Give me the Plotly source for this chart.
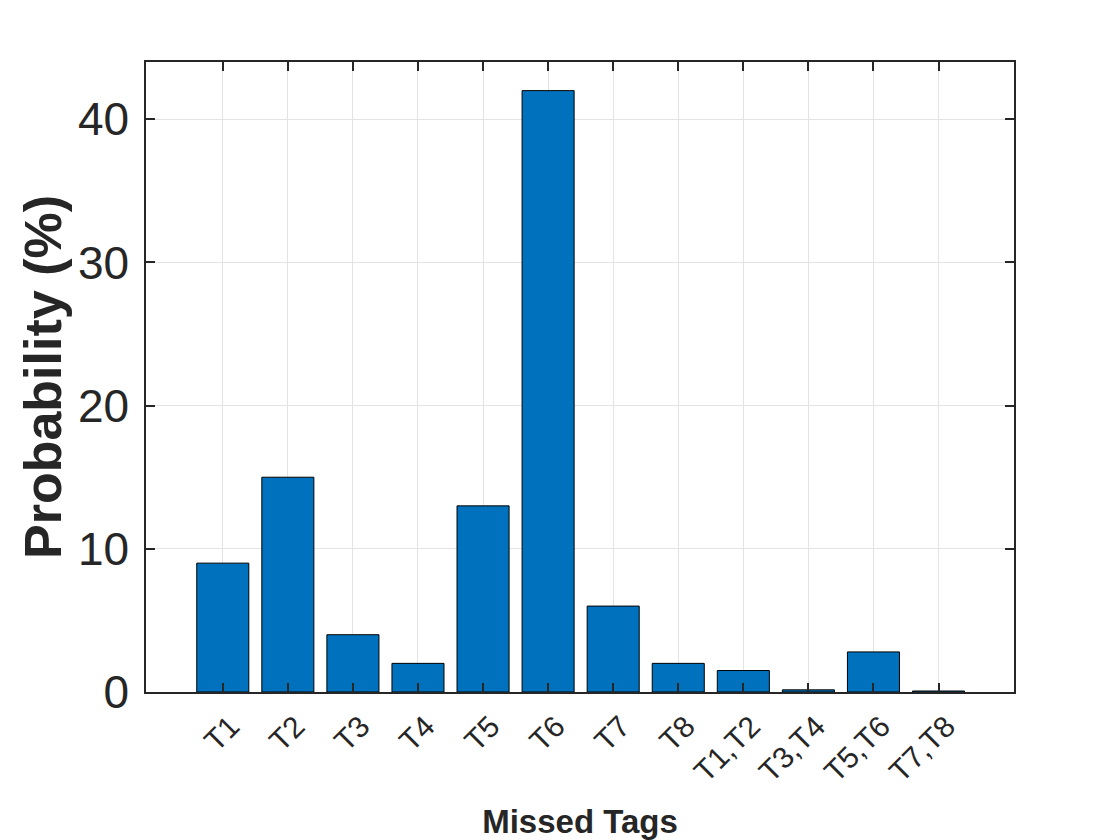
import plotly.graph_objects as go

categories = ["T1", "T2", "T3", "T4", "T5", "T6", "T7", "T8", "T1,T2", "T3,T4", "T5,T6", "T7,T8"]
probability = [9, 15, 4, 2, 13, 42, 6, 2, 1.5, 0.15, 2.8, 0.07]
y_ticks = [0, 10, 20, 30, 40]

txt = "#262626"
grid = "#E3E3E3"

fig = go.Figure(
    go.Bar(
        x=categories,
        y=probability,
        width=0.8,
        marker=dict(color="#0072BD", line=dict(color="#000000", width=1)),
    )
)

fig.update_layout(
    width=1104,
    height=832,
    margin=dict(l=138, r=98, t=54, b=148, autoexpand=False),
    paper_bgcolor="white",
    plot_bgcolor="white",
    font=dict(family="Liberation Sans, Arial, sans-serif", color=txt),
    showlegend=False,
    bargap=0.2,
)

fig.update_xaxes(
    type="category",
    range=[-1.18, 12.16],
    tickangle=-45,
    tickfont=dict(size=30, color=txt),
    ticks="inside",
    ticklen=9,
    tickwidth=1.5,
    tickcolor=txt,
    showline=True,
    linecolor=txt,
    linewidth=1.5,
    mirror="ticks",
    showgrid=True,
    gridcolor=grid,
    gridwidth=1,
    zeroline=False,
    automargin=False,
    ticklabelstandoff=3,
    ticklabelshift=8,
    title=dict(text="<b>Missed Tags</b>", font=dict(size=33, color=txt), standoff=42),
)

fig.update_yaxes(
    range=[0, 44],
    tickvals=y_ticks,
    ticktext=[str(v) for v in y_ticks],
    tickfont=dict(size=46, color=txt),
    ticks="inside",
    ticklen=9,
    tickwidth=1.5,
    tickcolor=txt,
    showline=True,
    linecolor=txt,
    linewidth=1.5,
    mirror="ticks",
    showgrid=True,
    gridcolor=grid,
    gridwidth=1,
    zeroline=False,
    automargin=False,
    ticklabelstandoff=6,
    title=dict(text="<b>Probability (%)</b>", font=dict(size=52, color=txt), standoff=0),
)

fig.write_html("out.html")
